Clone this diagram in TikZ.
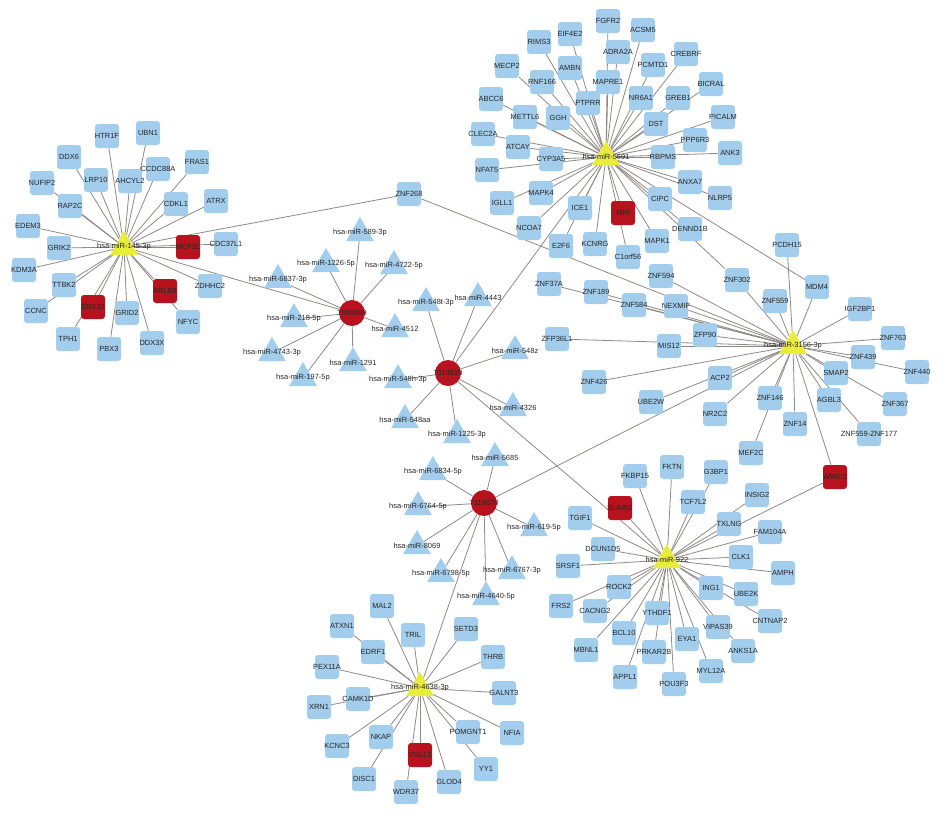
\documentclass[tikz,border=0pt]{standalone}
\usepackage{fontspec}
\setmainfont{Liberation Sans}
\usetikzlibrary{shapes.geometric,backgrounds}
\definecolor{geneblue}{HTML}{A3CDEC}
\definecolor{hitred}{HTML}{B8121E}
\definecolor{hubyellow}{HTML}{E8EC3A}
\definecolor{edgegray}{HTML}{8F8985}
\tikzset{
  lbl/.style={font=\fontsize{5.6}{6.5}\selectfont, text=black!85, inner sep=0pt},
  gene/.style={rectangle, rounded corners=2.2pt, fill=geneblue, minimum size=18pt, inner sep=0pt},
  hit/.style={gene, fill=hitred},
  mir/.style={regular polygon, regular polygon sides=3, fill=geneblue, minimum size=24pt, inner sep=0pt},
  hub/.style={mir, fill=hubyellow},
  drug/.style={circle, fill=hitred, minimum size=19.5pt, inner sep=0pt},
  edge/.style={draw=edgegray, line width=0.6pt}
}
\newcommand{\gn}[4][gene]{\node[#1,label={[lbl]center:#2}] (#2) at (#3,#4) {};}
\newcommand{\mr}[5][mir]{\node[#1,label={[lbl]center:#3}] (#2) at (#4,#5) {};}

\begin{document}
\begin{tikzpicture}[x=0.75pt,y=-0.75pt]
\useasboundingbox (0,0) rectangle (945,839);

\mr[hub]{h145}{hsa-miR-145-3p}{124}{247}
\mr[hub]{h5691}{hsa-miR-5691}{606}{157}
\mr[hub]{h3156}{hsa-miR-3156-3p}{793}{346}
\mr[hub]{h922}{hsa-miR-922}{667}{560}
\mr[hub]{h4638}{hsa-miR-4638-3p}{420}{688}

\mr[drug]{T093869}{T093869}{352}{313}
\mr[drug]{T114520}{T114520}{448}{373}
\mr[drug]{T118670}{T118670}{484}{503}

\mr{m589}{hsa-miR-589-3p}{360}{233}
\mr{m1226}{hsa-miR-1226-5p}{326}{264}
\mr{m4722}{hsa-miR-4722-5p}{394}{266}
\mr{m6837}{hsa-miR-6837-3p}{278}{280}
\mr{m218}{hsa-miR-218-5p}{294}{319}
\mr{m4512}{hsa-miR-4512}{395}{329}
\mr{m4743}{hsa-miR-4743-3p}{272}{353}
\mr{m1291}{hsa-miR-1291}{353}{363}
\mr{m197}{hsa-miR-197-5p}{303}{378}
\mr{m548t}{hsa-miR-548t-3p}{426}{303}
\mr{m4443}{hsa-miR-4443}{478}{298}
\mr{m548z}{hsa-miR-548z}{515}{351}
\mr{m548h}{hsa-miR-548h-3p}{398}{380}
\mr{m4326}{hsa-miR-4326}{513}{408}
\mr{m548aa}{hsa-miR-548aa}{405}{420}
\mr{m1225}{hsa-miR-1225-3p}{457}{435}
\mr{m5685}{hsa-miR-5685}{495}{458}
\mr{m6834}{hsa-miR-6834-5p}{433}{472}
\mr{m6764}{hsa-miR-6764-5p}{418}{507}
\mr{m619}{hsa-miR-619-5p}{534}{528}
\mr{m8069}{hsa-miR-8069}{417}{546}
\mr{m6798}{hsa-miR-6798-5p}{441}{574}
\mr{m6767}{hsa-miR-6767-3p}{512}{571}
\mr{m4640}{hsa-miR-4640-5p}{486}{597}

\gn{HTR1F}{107}{136}
\gn{UBN1}{148}{133}
\gn{DDX6}{69}{157}
\gn{CCDC88A}{158}{169}
\gn{FRAS1}{197}{162}
\gn{LRP10}{96}{180}
\gn{AHCYL2}{130}{181}
\gn{NUFIP2}{42}{183}
\gn{CDKL1}{176}{204}
\gn{ATRX}{216}{201}
\gn{RAP2C}{70}{206}
\gn{EDEM3}{28}{226}
\gn[hit]{MCF2L}{188}{247}
\gn{CDC37L1}{226}{244}
\gn{GRIK2}{59}{248}
\gn{KDM3A}{24}{270}
\gn{ZDHHC2}{210}{286}
\gn{TTBK2}{64}{285}
\gn[hit]{ARL5B}{165}{291}
\gn[hit]{SNX32}{93}{307}
\gn{GRID2}{127}{313}
\gn{CCNC}{36}{311}
\gn{NFYC}{188}{322}
\gn{TPH1}{68}{339}
\gn{PBX3}{109}{349}
\gn{DDX3X}{152}{343}
\gn{ZNF268}{409}{194}

\gn{FGFR2}{608}{21}
\gn{ACSM5}{643}{30}
\gn{EIF4E2}{570}{34}
\gn{RIMS3}{539}{42}
\gn{ADRA2A}{618}{52}
\gn{CREBRF}{686}{54}
\gn{PCMTD1}{653}{65}
\gn{AMBN}{570}{68}
\gn{MECP2}{507}{66}
\gn{MAPRE1}{608}{82}
\gn{RNF166}{542}{82}
\gn{BICRAL}{711}{84}
\gn{NR6A1}{641}{98}
\gn{GREB1}{678}{98}
\gn{ABCC6}{491}{99}
\gn{PTPRR}{588}{103}
\gn{METTL6}{525}{117}
\gn{GGH}{558}{118}
\gn{PICALM}{723}{117}
\gn{DST}{656}{124}
\gn{CLEC2A}{483}{134}
\gn{PPP6R3}{695}{140}
\gn{ATCAY}{518}{147}
\gn{ANK3}{730}{153}
\gn{RBPMS}{663}{157}
\gn{CYP3A5}{551}{159}
\gn{NFAT5}{487}{170}
\gn{ANXA7}{690}{182}
\gn{MAPK4}{541}{193}
\gn{IGLL1}{502}{203}
\gn{CIPC}{660}{199}
\gn{NLRP5}{720}{198}
\gn{ICE1}{580}{208}
\gn[hit]{MPI}{623}{213}
\gn{NCOA7}{529}{228}
\gn{DENND1B}{690}{229}
\gn{MAPK1}{657}{241}
\gn{KCNRG}{595}{244}
\gn{E2F6}{561}{246}
\gn{C1orf56}{628}{257}

\gn{PCDH15}{787}{245}
\gn{ZNF594}{661}{276}
\gn{ZNF302}{737}{280}
\gn{MDM4}{817}{287}
\gn{ZNF37A}{549}{284}
\gn{ZNF189}{596}{292}
\gn{ZNF559}{775}{301}
\gn{ZNF584}{634}{305}
\gn{NEXMIF}{676}{306}
\gn{IGF2BP1}{860}{309}
\gn{ZFP90}{705}{335}
\gn{ZFP36L1}{557}{339}
\gn{ZNF763}{893}{338}
\gn{MIS12}{669}{346}
\gn{ZNF439}{863}{357}
\gn{ZNF440}{917}{372}
\gn{SMAP2}{836}{373}
\gn{ACP2}{720}{378}
\gn{ZNF426}{594}{382}
\gn{AGBL3}{829}{400}
\gn{ZNF146}{770}{398}
\gn{UBE2W}{651}{402}
\gn{ZNF367}{895}{404}
\gn{NR2C2}{715}{414}
\gn{ZNF14}{795}{424}
\gn{ZNF559-ZNF177}{869}{434}
\gn{MEF2C}{751}{453}
\gn[hit]{WWC3}{835}{477}

\gn{FKTN}{672}{467}
\gn{G3BP1}{716}{472}
\gn{FKBP15}{635}{476}
\gn{INSIG2}{757}{495}
\gn{TCF7L2}{693}{502}
\gn[hit]{SLAIN2}{620}{508}
\gn{TGIF1}{580}{518}
\gn{TXLNG}{729}{524}
\gn{FAM104A}{770}{532}
\gn{DCUN1D5}{603}{549}
\gn{CLK1}{741}{557}
\gn{SRSF1}{568}{566}
\gn{AMPH}{783}{573}
\gn{ROCK2}{619}{587}
\gn{ING1}{711}{588}
\gn{UBE2K}{746}{594}
\gn{FRS2}{561}{606}
\gn{CACNG2}{595}{611}
\gn{YTHDF1}{657}{613}
\gn{CNTNAP2}{770}{621}
\gn{VIPAS39}{718}{627}
\gn{BCL10}{624}{633}
\gn{EYA1}{687}{639}
\gn{ANKS1A}{743}{651}
\gn{MBNL1}{586}{650}
\gn{PRKAR2B}{654}{652}
\gn{MYL12A}{711}{671}
\gn{APPL1}{625}{677}
\gn{POU3F3}{674}{684}

\gn{MAL2}{382}{606}
\gn{ATXN1}{342}{626}
\gn{TRIL}{413}{635}
\gn{SETD3}{466}{629}
\gn{EDRF1}{373}{652}
\gn{THRB}{493}{657}
\gn{PEX11A}{327}{667}
\gn{GALNT3}{504}{693}
\gn{CAMK1D}{358}{699}
\gn{XRN1}{319}{707}
\gn{NFIA}{512}{733}
\gn{POMGNT1}{468}{732}
\gn{NKAP}{381}{737}
\gn{KCNC3}{337}{746}
\gn[hit]{VGLL3}{420}{755}
\gn{YY1}{486}{769}
\gn{DISC1}{364}{779}
\gn{GLOD4}{449}{782}
\gn{WDR37}{406}{792}

\begin{scope}[on background layer]
\foreach \g in {HTR1F,UBN1,DDX6,CCDC88A,FRAS1,LRP10,AHCYL2,NUFIP2,CDKL1,ATRX,RAP2C,EDEM3,MCF2L,CDC37L1,GRIK2,KDM3A,ZDHHC2,TTBK2,ARL5B,SNX32,GRID2,CCNC,NFYC,TPH1,PBX3,DDX3X,ZNF268,T093869}
  \draw[edge] (h145) -- (\g);
\foreach \g in {FGFR2,ACSM5,EIF4E2,RIMS3,ADRA2A,CREBRF,PCMTD1,AMBN,MECP2,MAPRE1,RNF166,BICRAL,NR6A1,GREB1,ABCC6,PTPRR,METTL6,GGH,PICALM,DST,CLEC2A,PPP6R3,ATCAY,ANK3,RBPMS,CYP3A5,NFAT5,ANXA7,MAPK4,IGLL1,CIPC,NLRP5,ICE1,MPI,NCOA7,DENND1B,MAPK1,KCNRG,E2F6,C1orf56,MDM4,ZNF302,T114520}
  \draw[edge] (h5691) -- (\g);
\foreach \g in {PCDH15,ZNF594,ZNF302,MDM4,ZNF37A,ZNF189,ZNF559,ZNF584,NEXMIF,IGF2BP1,ZFP90,ZFP36L1,ZNF763,MIS12,ZNF439,ZNF440,SMAP2,ACP2,ZNF426,AGBL3,ZNF146,UBE2W,ZNF367,NR2C2,ZNF14,ZNF559-ZNF177,MEF2C,WWC3,ZNF268,T118670}
  \draw[edge] (h3156) -- (\g);
\foreach \g in {FKTN,G3BP1,FKBP15,INSIG2,TCF7L2,SLAIN2,TGIF1,TXLNG,FAM104A,DCUN1D5,CLK1,SRSF1,AMPH,ROCK2,ING1,UBE2K,FRS2,CACNG2,YTHDF1,CNTNAP2,VIPAS39,BCL10,EYA1,ANKS1A,MBNL1,PRKAR2B,MYL12A,APPL1,POU3F3,WWC3,T114520}
  \draw[edge] (h922) -- (\g);
\foreach \g in {MAL2,ATXN1,TRIL,SETD3,EDRF1,THRB,PEX11A,GALNT3,CAMK1D,XRN1,NFIA,POMGNT1,NKAP,KCNC3,VGLL3,YY1,DISC1,GLOD4,WDR37,T118670}
  \draw[edge] (h4638) -- (\g);
\foreach \g in {m589,m1226,m4722,m6837,m218,m4743,m197,m1291,m4512}
  \draw[edge] (T093869) -- (\g);
\foreach \g in {m548t,m4443,m548z,m548h,m4326,m548aa,m1225}
  \draw[edge] (T114520) -- (\g);
\foreach \g in {m5685,m6834,m6764,m619,m8069,m6798,m6767,m4640}
  \draw[edge] (T118670) -- (\g);
\end{scope}
\end{tikzpicture}
\end{document}
